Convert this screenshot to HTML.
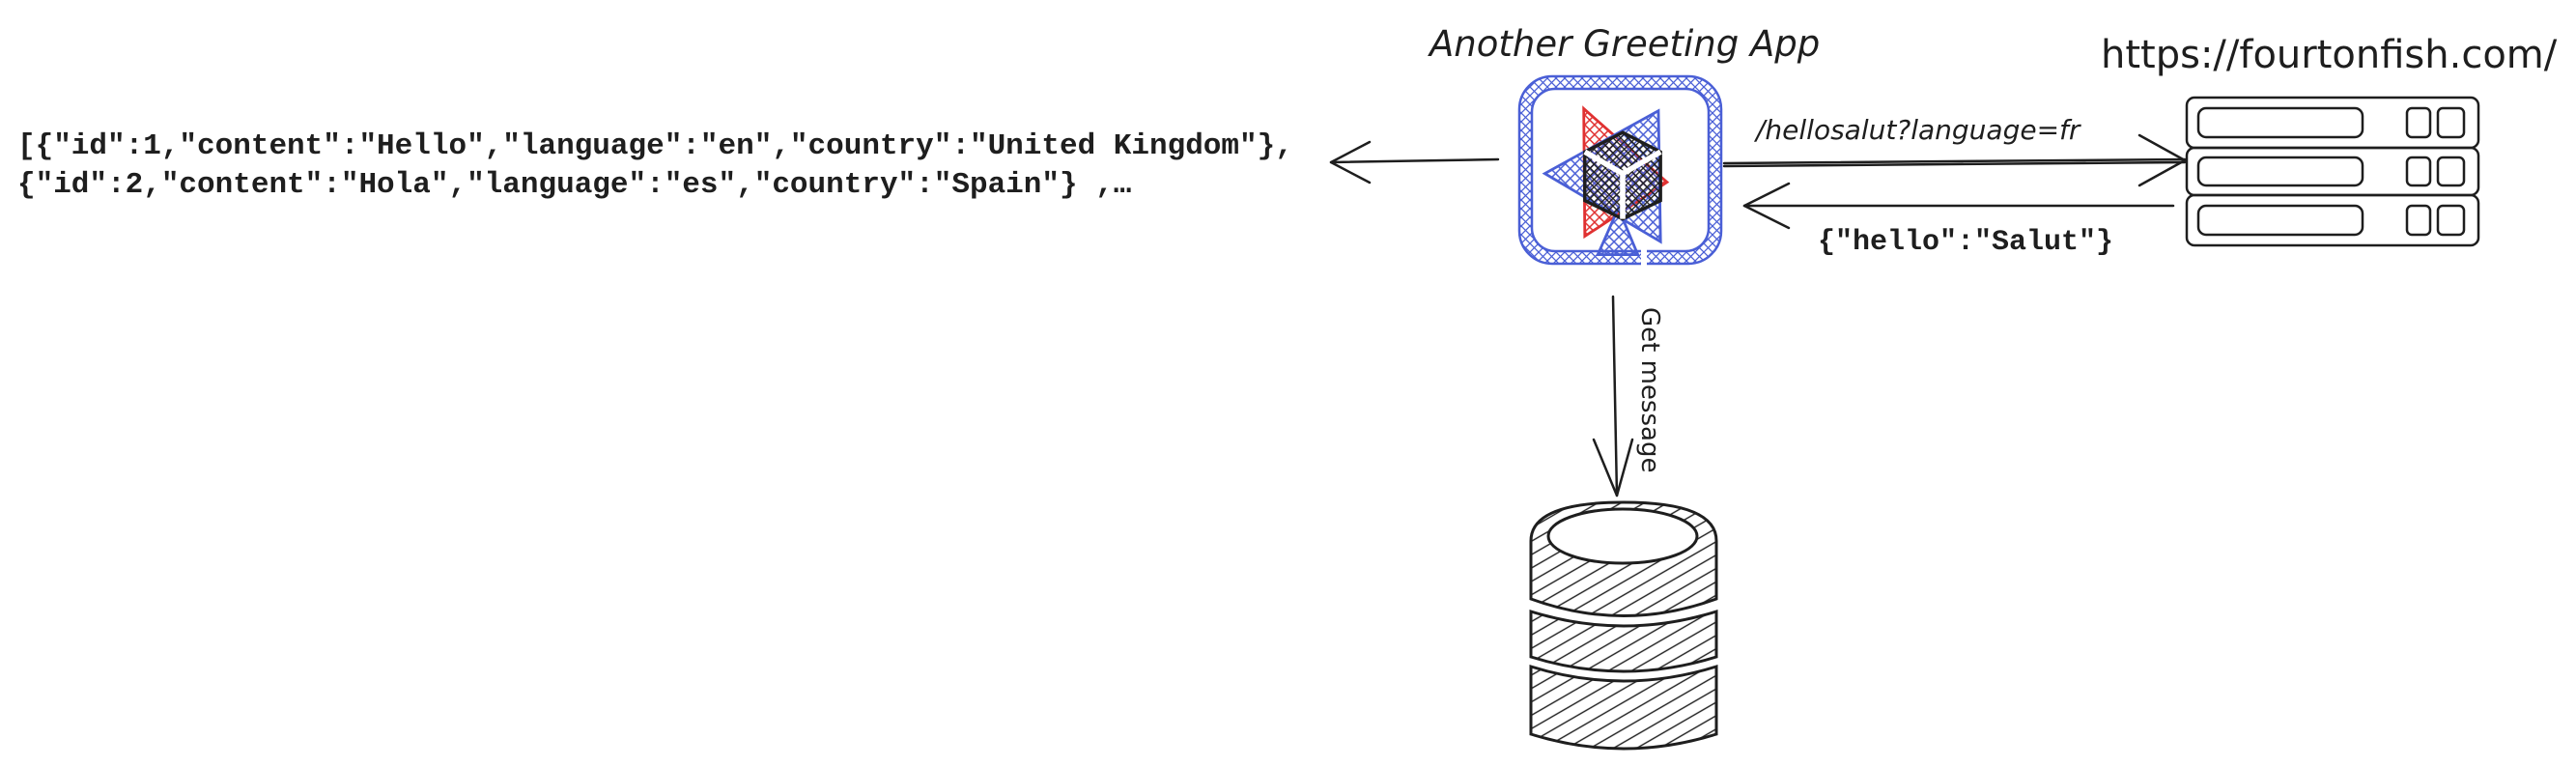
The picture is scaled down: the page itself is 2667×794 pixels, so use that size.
<!DOCTYPE html>
<html><head><meta charset="utf-8"><style>
html,body{margin:0;padding:0;background:#fff;}
body{width:2667px;height:794px;overflow:hidden;position:relative;}
svg{position:absolute;left:0;top:0;}
.h{font-family:"DejaVu Sans","Liberation Sans",sans-serif;fill:#1e1e1e;}
.m{font-family:"Liberation Mono","DejaVu Sans Mono",monospace;fill:#1e1e1e;}
</style></head><body>
<svg width="2667" height="794" viewBox="0 0 2667 794" xmlns="http://www.w3.org/2000/svg">
<defs>
<pattern id="hb" width="9" height="9" patternUnits="userSpaceOnUse">
<path d="M0 9L9 0M0 0L9 9" stroke="#4a5fd6" stroke-width="1.3"/></pattern>
<pattern id="hr" width="9" height="9" patternUnits="userSpaceOnUse">
<path d="M0 9L9 0M0 0L9 9" stroke="#e03131" stroke-width="1.3"/></pattern>
<pattern id="hk" width="7" height="7" patternUnits="userSpaceOnUse">
<path d="M0 7L7 0M0 0L7 7" stroke="#1e1e1e" stroke-width="1.2"/></pattern>
<pattern id="hd" width="12" height="12" patternUnits="userSpaceOnUse" patternTransform="rotate(-30)">
<path d="M0 6H12" stroke="#1e1e1e" stroke-width="1.4"/></pattern>
</defs>

<text class="m" x="18" y="159" font-size="31" font-weight="bold">[{"id":1,"content":"Hello","language":"en","country":"United Kingdom"},</text>
<text class="m" x="18" y="199" font-size="31" font-weight="bold">{"id":2,"content":"Hola","language":"es","country":"Spain"} ,…</text>

<g stroke="#1e1e1e" stroke-width="2.5" fill="none" stroke-linecap="round">
<path d="M1551 165 L1378 168"/>
<path d="M1378 168 L1418 147 M1378 168 L1418 189"/>
</g>

<text class="h" x="1480" y="58" font-size="37" font-style="italic">Another Greeting App</text>

<rect x="1579" y="85" width="197" height="182" rx="30" fill="none" stroke="url(#hb)" stroke-width="14"/>
<rect x="1573" y="79" width="209" height="194" rx="34" fill="none" stroke="#4a5fd6" stroke-width="2.5"/>
<rect x="1586" y="92" width="183" height="168" rx="24" fill="none" stroke="#4a5fd6" stroke-width="2.5"/>
<path d="M1702 255 L1702 280" stroke="#fff" stroke-width="6"/>
<g transform="translate(1680,183) scale(1.12) translate(-1682,-183)">
<polygon points="1646,120 1723,188 1647,238" fill="url(#hr)" stroke="#e03131" stroke-width="2.5"/>
<polygon points="1715,122 1610,180 1717,243" fill="url(#hb)" stroke="#4a5fd6" stroke-width="2.5"/>
<polygon points="1659,255 1696,255 1678,212" fill="url(#hb)" stroke="#4a5fd6" stroke-width="2.5"/>
<polygon points="1682,142 1717,160 1717,205 1682,222 1647,205 1647,160" fill="url(#hk)" stroke="#1e1e1e" stroke-width="3"/>
<path d="M1647 160 L1682 180 L1717 160 M1682 180 L1682 222" stroke="#fff" stroke-width="5" fill="none"/>
</g>

<text class="h" x="2175" y="70" font-size="40">https://fourtonfish.com/</text>

<g stroke="#1e1e1e" stroke-width="2.5" fill="none">
<rect x="2264" y="101" width="302" height="52" rx="8"/>
<rect x="2264" y="153" width="302" height="49" rx="8"/>
<rect x="2264" y="202" width="302" height="52" rx="8"/>
<rect x="2276" y="112" width="170" height="30" rx="8"/>
<rect x="2276" y="163" width="170" height="29" rx="8"/>
<rect x="2276" y="213" width="170" height="30" rx="8"/>
<rect x="2492" y="112" width="24" height="30" rx="5"/><rect x="2524" y="112" width="27" height="30" rx="5"/>
<rect x="2492" y="163" width="24" height="29" rx="5"/><rect x="2524" y="163" width="27" height="29" rx="5"/>
<rect x="2492" y="213" width="24" height="30" rx="5"/><rect x="2524" y="213" width="27" height="30" rx="5"/>
</g>

<g stroke="#1e1e1e" stroke-width="2.5" fill="none" stroke-linecap="round">
<path d="M1785 169 L2262 165 M1785 172 L2262 168"/>
<path d="M2262 166 L2215 140 M2262 166 L2215 192"/>
<path d="M2250 213 L1806 213"/>
<path d="M1806 213 L1852 190 M1806 213 L1852 236"/>
</g>
<text class="h" x="1818" y="144" font-size="28" font-style="italic">/hellosalut?language=fr</text>
<text class="m" x="1882" y="258" font-size="30" font-weight="bold">{"hello":"Salut"}</text>

<g stroke="#1e1e1e" stroke-width="2.5" fill="none" stroke-linecap="round">
<path d="M1670 307 L1674 513"/>
<path d="M1674 513 L1650 455 M1674 513 L1690 455"/>
</g>
<text class="h" font-size="26" transform="translate(1700,318) rotate(90)">Get message</text>

<g stroke="#1e1e1e" stroke-width="3">
<path d="M1585 690 L1585 760 Q1681 790 1777 760 L1777 690 Q1681 720 1585 690 Z" fill="url(#hd)"/>
<path d="M1585 633 L1585 680 Q1681 710 1777 680 L1777 633 Q1681 663 1585 633 Z" fill="url(#hd)"/>
<path d="M1585 560 L1585 620 Q1681 655 1777 620 L1777 560 Q1777 520 1681 520 Q1585 520 1585 560 Z" fill="url(#hd)"/>
<ellipse cx="1680" cy="555" rx="77" ry="28" fill="#fff"/>
</g>
</svg>
</body></html>
